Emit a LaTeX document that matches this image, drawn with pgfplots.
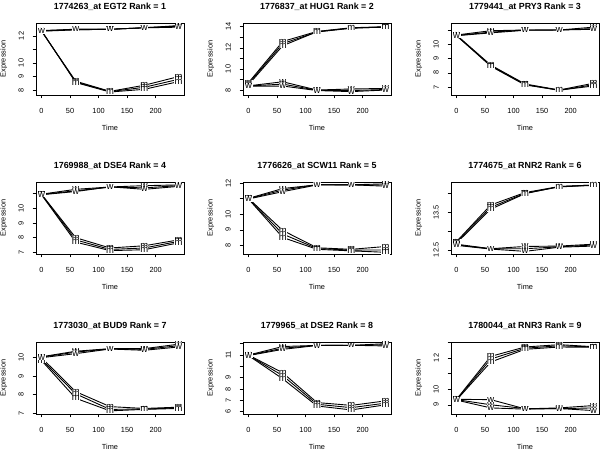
\documentclass[border=0pt]{standalone}
\usepackage{fontspec}
\setmainfont{Liberation Sans}
\usepackage{pgfplots}
\pgfplotsset{compat=1.18}
\pgfplotsset{
  rpanel/.style={
    scale only axis, width=148bp, height=72bp,
    anchor=north west,
    xmin=-9.6, xmax=249.6,
    xtick={0,50,100,150,200},
    /pgf/number format/assume math mode=true,
    axis line style={line width=0.6bp},
    every tick/.style={black, line width=0.5bp},
    tick align=outside, major tick length=3.5bp,
    xtick pos=bottom, ytick pos=left,
    yticklabel style={rotate=90, anchor=south, inner sep=0pt, font=\fontsize{7.4}{8}\selectfont},
    xticklabel style={anchor=north, inner sep=0pt, font=\fontsize{7.4}{8}\selectfont},
    yticklabel shift=8.5bp,
    xticklabel shift=10bp,
    title style={at={(axis description cs:0.5,1.11)}, anchor=base, font=\bfseries\fontsize{8.9}{10}\selectfont},
    xlabel={Time}, ylabel={Expression},
    xlabel style={at={(axis description cs:0.5,-0.496)}, anchor=base, font=\fontsize{7.4}{8}\selectfont},
    ylabel style={at={(axis description cs:-0.206,0.5)}, anchor=base, font=\fontsize{7.4}{8}\selectfont},
  },
  mline/.style={black, line width=0.9bp, mark=text, text mark={m}, text mark as node=true,
    text mark style={font=\fontsize{9.5}{9.5}\selectfont, fill=white, inner sep=0.1pt}},
  wline/.style={black, line width=0.9bp, mark=text, text mark={w}, text mark as node=true,
    text mark style={font=\fontsize{9.5}{9.5}\selectfont, fill=white, inner sep=0.1pt}},
}
\begin{document}
\begin{tikzpicture}[x=1bp,y=1bp]
\path (0,0) rectangle (600,450);
% Panel 1
\begin{axis}[rpanel, at={(36bp,427bp)}, title={1774263\_at EGT2 Rank = 1},
  ymin=7.63, ymax=12.96, ytick={8,9,10,11,12}, yticklabels={8,9,10,,12}]
\addplot[mline] coordinates {(0,12.35)(60,8.65)(120,7.9)(180,8.35)(240,8.99)};
\addplot[mline] coordinates {(0,12.38)(60,8.6)(120,7.88)(180,8.2)(240,8.79)};
\addplot[mline] coordinates {(0,12.4)(60,8.55)(120,7.85)(180,8.05)(240,8.62)};
\addplot[wline] coordinates {(0,12.35)(60,12.45)(120,12.5)(180,12.6)(240,12.77)};
\addplot[wline] coordinates {(0,12.38)(60,12.47)(120,12.48)(180,12.62)(240,12.72)};
\addplot[wline] coordinates {(0,12.4)(60,12.5)(120,12.5)(180,12.6)(240,12.65)};
\end{axis}
% Panel 2
\begin{axis}[rpanel, at={(243bp,427bp)}, title={1776837\_at HUG1 Rank = 2},
  ymin=7.53, ymax=14.35, ytick={8,9,10,11,12,13,14}, yticklabels={8,,10,,12,,14}]
\addplot[mline] coordinates {(0,8.7)(60,12.6)(120,13.55)(180,13.9)(240,14.0)};
\addplot[mline] coordinates {(0,8.6)(60,12.4)(120,13.5)(180,13.85)(240,13.98)};
\addplot[mline] coordinates {(0,8.5)(60,12.2)(120,13.52)(180,13.88)(240,13.95)};
\addplot[wline] coordinates {(0,8.4)(60,8.78)(120,8.0)(180,8.1)(240,8.15)};
\addplot[wline] coordinates {(0,8.38)(60,8.56)(120,7.98)(180,7.95)(240,8.05)};
\addplot[wline] coordinates {(0,8.35)(60,8.38)(120,7.95)(180,7.85)(240,8.0)};
\end{axis}
% Panel 3
\begin{axis}[rpanel, at={(451bp,427bp)}, title={1779441\_at PRY3 Rank = 3},
  ymin=6.46, ymax=11.49, ytick={7,8,9,10,11}, yticklabels={7,8,9,10,}]
\addplot[mline] coordinates {(0,10.65)(60,8.55)(120,7.23)(180,6.81)(240,7.28)};
\addplot[mline] coordinates {(0,10.6)(60,8.5)(120,7.2)(180,6.78)(240,7.18)};
\addplot[mline] coordinates {(0,10.62)(60,8.47)(120,7.16)(180,6.8)(240,7.09)};
\addplot[wline] coordinates {(0,10.65)(60,10.95)(120,11.0)(180,11.0)(240,11.2)};
\addplot[wline] coordinates {(0,10.62)(60,10.85)(120,11.0)(180,11.0)(240,11.1)};
\addplot[wline] coordinates {(0,10.6)(60,10.8)(120,10.98)(180,11.0)(240,11.05)};
\end{axis}
% Panel 4
\begin{axis}[rpanel, at={(36bp,268bp)}, title={1769988\_at DSE4 Rank = 4},
  ymin=6.89, ymax=11.8, ytick={7,8,9,10,11}, yticklabels={7,8,9,10,}]
\addplot[mline] coordinates {(0,10.97)(60,8.0)(120,7.3)(180,7.45)(240,7.85)};
\addplot[mline] coordinates {(0,10.95)(60,7.85)(120,7.2)(180,7.3)(240,7.75)};
\addplot[mline] coordinates {(0,10.93)(60,7.7)(120,7.12)(180,7.18)(240,7.65)};
\addplot[wline] coordinates {(0,10.97)(60,11.3)(120,11.46)(180,11.55)(240,11.6)};
\addplot[wline] coordinates {(0,10.95)(60,11.2)(120,11.45)(180,11.4)(240,11.55)};
\addplot[wline] coordinates {(0,10.93)(60,11.15)(120,11.47)(180,11.3)(240,11.5)};
\end{axis}
% Panel 5
\begin{axis}[rpanel, at={(243bp,268bp)}, title={1776626\_at SCW11 Rank = 5},
  ymin=7.45, ymax=12.07, ytick={8,9,10,11,12}, yticklabels={8,9,10,,12}]
\addplot[mline] coordinates {(0,11.02)(60,8.96)(120,7.85)(180,7.75)(240,7.93)};
\addplot[mline] coordinates {(0,11.0)(60,8.73)(120,7.8)(180,7.7)(240,7.71)};
\addplot[mline] coordinates {(0,10.98)(60,8.51)(120,7.75)(180,7.65)(240,7.56)};
\addplot[wline] coordinates {(0,11.02)(60,11.65)(120,11.89)(180,11.89)(240,11.95)};
\addplot[wline] coordinates {(0,11.0)(60,11.55)(120,11.9)(180,11.88)(240,11.88)};
\addplot[wline] coordinates {(0,10.98)(60,11.45)(120,11.88)(180,11.89)(240,11.8)};
\end{axis}
% Panel 6
\begin{axis}[rpanel, at={(451bp,268bp)}, title={1774675\_at RNR2 Rank = 6},
  ymin=12.39, ymax=14.3, ytick={12.5,13,13.5,14}, yticklabels={12.5,,13.5,}]
\addplot[mline] coordinates {(0,12.72)(60,13.69)(120,14.02)(180,14.18)(240,14.22)};
\addplot[mline] coordinates {(0,12.7)(60,13.63)(120,14.0)(180,14.17)(240,14.21)};
\addplot[mline] coordinates {(0,12.68)(60,13.58)(120,13.99)(180,14.18)(240,14.22)};
\addplot[wline] coordinates {(0,12.65)(60,12.53)(120,12.59)(180,12.6)(240,12.65)};
\addplot[wline] coordinates {(0,12.63)(60,12.53)(120,12.53)(180,12.58)(240,12.63)};
\addplot[wline] coordinates {(0,12.62)(60,12.52)(120,12.46)(180,12.57)(240,12.6)};
\end{axis}
% Panel 7
\begin{axis}[rpanel, at={(36bp,108bp)}, title={1773030\_at BUD9 Rank = 7},
  ymin=6.95, ymax=10.85, ytick={7,8,9,10}, yticklabels={7,8,9,10}]
\addplot[mline] coordinates {(0,10.0)(60,8.16)(120,7.35)(180,7.25)(240,7.32)};
\addplot[mline] coordinates {(0,9.9)(60,8.04)(120,7.2)(180,7.22)(240,7.28)};
\addplot[mline] coordinates {(0,9.85)(60,7.8)(120,7.12)(180,7.2)(240,7.25)};
\addplot[wline] coordinates {(0,10.05)(60,10.35)(120,10.49)(180,10.49)(240,10.73)};
\addplot[wline] coordinates {(0,10.03)(60,10.3)(120,10.48)(180,10.45)(240,10.65)};
\addplot[wline] coordinates {(0,10.0)(60,10.22)(120,10.47)(180,10.4)(240,10.58)};
\end{axis}
% Panel 8
\begin{axis}[rpanel, at={(243bp,108bp)}, title={1779965\_at DSE2 Rank = 8},
  ymin=5.79, ymax=12.15, ytick={6,7,8,9,10,11,12}, yticklabels={6,7,8,9,,11,}]
\addplot[mline] coordinates {(0,11.0)(60,9.43)(120,6.8)(180,6.55)(240,6.95)};
\addplot[mline] coordinates {(0,10.97)(60,9.18)(120,6.65)(180,6.35)(240,6.75)};
\addplot[mline] coordinates {(0,10.95)(60,8.9)(120,6.5)(180,6.15)(240,6.6)};
\addplot[wline] coordinates {(0,11.0)(60,11.75)(120,11.85)(180,11.85)(240,12.0)};
\addplot[wline] coordinates {(0,10.97)(60,11.6)(120,11.86)(180,11.84)(240,11.9)};
\addplot[wline] coordinates {(0,10.95)(60,11.5)(120,11.84)(180,11.86)(240,11.8)};
\end{axis}
% Panel 9
\begin{axis}[rpanel, at={(451bp,108bp)}, title={1780044\_at RNR3 Rank = 9},
  ymin=8.41, ymax=13.02, ytick={9,10,11,12,13}, yticklabels={9,10,,12,}]
\addplot[mline] coordinates {(0,9.35)(60,12.1)(120,12.7)(180,12.85)(240,12.72)};
\addplot[mline] coordinates {(0,9.33)(60,11.93)(120,12.62)(180,12.78)(240,12.7)};
\addplot[mline] coordinates {(0,9.3)(60,11.74)(120,12.55)(180,12.7)(240,12.68)};
\addplot[wline] coordinates {(0,9.35)(60,9.33)(120,8.74)(180,8.8)(240,8.95)};
\addplot[wline] coordinates {(0,9.33)(60,9.0)(120,8.76)(180,8.75)(240,8.8)};
\addplot[wline] coordinates {(0,9.3)(60,8.8)(120,8.72)(180,8.76)(240,8.63)};
\end{axis}
\pgfresetboundingbox
\path (0,0) rectangle (600,450);
\end{tikzpicture}
\end{document}
